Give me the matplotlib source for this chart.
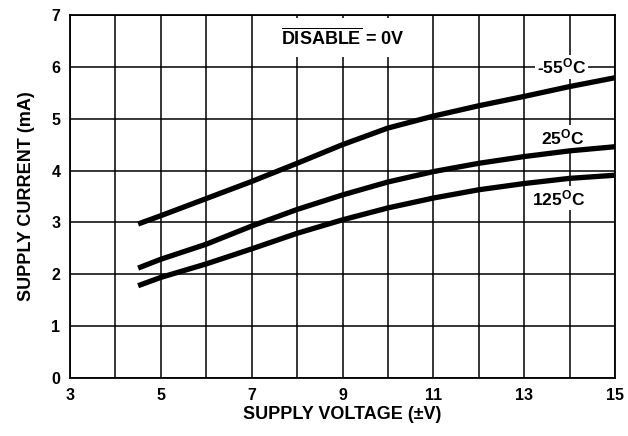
import matplotlib
matplotlib.use("Agg")
import matplotlib.pyplot as plt
from matplotlib.patches import Rectangle

plt.rcParams['font.family'] = ['Liberation Sans', 'DejaVu Sans']
plt.rcParams['font.weight'] = 'bold'
plt.rcParams['mathtext.fontset'] = 'custom'
plt.rcParams['mathtext.rm'] = 'Liberation Sans:bold'
plt.rcParams['mathtext.bf'] = 'Liberation Sans:bold'
plt.rcParams['mathtext.it'] = 'Liberation Sans:bold'

# Data (supply voltage, supply current in mA)
voltage = [4.5, 5, 6, 7, 8, 9, 10, 11, 12, 13, 14, 15]
i_m55 = [2.97, 3.13, 3.46, 3.79, 4.14, 4.50, 4.82, 5.05, 5.25, 5.43, 5.62, 5.79]
i_25 = [2.12, 2.29, 2.58, 2.93, 3.25, 3.53, 3.78, 3.98, 4.14, 4.27, 4.38, 4.46]
i_125 = [1.78, 1.94, 2.20, 2.49, 2.79, 3.05, 3.28, 3.47, 3.63, 3.75, 3.85, 3.91]

x_major = [3, 5, 7, 9, 11, 13, 15]
x_minor = [4, 6, 8, 10, 12, 14]
y_ticks = [0, 1, 2, 3, 4, 5, 6, 7]

fig = plt.figure(figsize=(6.28, 4.36), dpi=100)
ax = fig.add_axes([70/628, 1 - 378/436, 545/628, 363/436])

ax.set_xlim(3, 15)
ax.set_ylim(0, 7)
ax.set_xticks(x_major)
ax.set_xticks(x_minor, minor=True)
ax.set_yticks(y_ticks)
ax.grid(True, which='both', color='black', linewidth=1.1, zorder=1)
ax.set_axisbelow(True)
ax.tick_params(which='both', length=0, labelsize=11.5, pad=7)
for lab in ax.get_xticklabels() + ax.get_yticklabels():
    lab.set_fontweight('bold')
for s in ax.spines.values():
    s.set_linewidth(1.3)

for cur in (i_m55, i_25, i_125):
    ax.plot(voltage, cur, color='black', linewidth=3.8, solid_capstyle='butt',
            solid_joinstyle='round', zorder=4)

# white box behind the DISABLE annotation
ax.add_patch(Rectangle((7.05, 6.19), 3.9, 0.75, facecolor='white', edgecolor='none', zorder=2))
ax.text(9, 6.55, r'$\overline{\mathbf{DISABLE}}$ = 0V', ha='center', va='center',
        fontsize=13, fontweight='bold', zorder=5)

bb = dict(facecolor='white', edgecolor='none', pad=1.5)
ax.text(13.82, 6.0, r'-55$^{\mathbf{O}}$C', ha='center', va='center', fontsize=12.5,
        fontweight='bold', bbox=bb, zorder=3)
ax.text(13.84, 4.64, r'25$^{\mathbf{O}}$C', ha='center', va='center', fontsize=12.5,
        fontweight='bold', bbox=bb, zorder=3)
ax.text(13.75, 3.47, r'125$^{\mathbf{O}}$C', ha='center', va='center', fontsize=12.5,
        fontweight='bold', bbox=bb, zorder=3)

ax.set_xlabel('SUPPLY VOLTAGE (±V)', fontsize=13, fontweight='bold', labelpad=2)
ax.set_ylabel('SUPPLY CURRENT (mA)', fontsize=13, fontweight='bold', labelpad=12)

fig.savefig('out.png', dpi=100)
